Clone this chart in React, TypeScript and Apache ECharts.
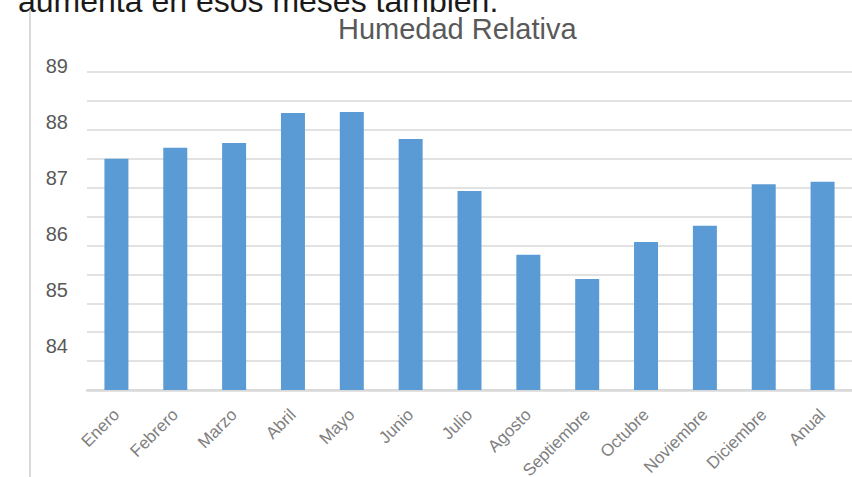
import React, { useEffect, useRef } from "react";
import * as echarts from "echarts";

const months = [
  "Enero",
  "Febrero",
  "Marzo",
  "Abril",
  "Mayo",
  "Junio",
  "Julio",
  "Agosto",
  "Septiembre",
  "Octubre",
  "Noviembre",
  "Diciembre",
  "Anual",
];
const humidity = [87.0, 87.19, 87.27, 87.79, 87.81, 87.34, 86.44, 85.34, 84.92, 85.56, 85.84, 86.56, 86.6];
const yTickLabels = [84, 85, 86, 87, 88, 89];
const titleText = "Humedad Relativa";
const bodyText = "aumenta en esos meses también.";

const FONT = "'Liberation Sans', Arial, Helvetica, sans-serif";

export default function App() {
  const ref = useRef<HTMLDivElement>(null);
  useEffect(() => {
    if (!ref.current) return;
    const chart = echarts.init(ref.current, null, { renderer: "svg" });
    chart.setOption({
      animation: false,
      backgroundColor: "#ffffff",
      title: {
        text: titleText,
        left: 333,
        top: 9,
        textStyle: { fontFamily: FONT, fontSize: 29, fontWeight: "normal", color: "#595959" },
      },
      grid: [
        { left: 87, right: 0, top: 72, bottom: 87, outerBoundsMode: "none", containLabel: false },
        { left: 87, right: 0, top: 66, height: 336, outerBoundsMode: "none", containLabel: false },
      ],
      xAxis: [
        {
          type: "category",
          data: months,
          gridIndex: 0,
          axisLine: { lineStyle: { color: "#d9d9d9", width: 2.5 } },
          axisTick: { show: false },
          axisLabel: {
            rotate: 45,
            interval: 0,
            fontSize: 17,
            margin: 22,
            color: "#7f7f7f",
            fontFamily: FONT,
          },
        },
        { type: "category", data: months, gridIndex: 1, show: false },
      ],
      yAxis: [
        {
          type: "value",
          gridIndex: 0,
          min: 83,
          max: 88.5,
          interval: 0.5,
          axisLabel: { show: false },
          axisLine: { show: false },
          axisTick: { show: false },
          splitLine: { lineStyle: { color: "#d9d9d9", width: 1.5 } },
        },
        {
          type: "value",
          gridIndex: 1,
          min: 83,
          max: 89,
          interval: 1,
          axisLabel: {
            customValues: yTickLabels,
            fontSize: 20,
            margin: 19,
            color: "#595959",
            fontFamily: FONT,
          },
          axisLine: { show: false },
          axisTick: { show: false },
          splitLine: { show: false },
        },
      ],
      graphic: [
        {
          type: "line",
          shape: { x1: 30, y1: 10, x2: 30, y2: 477 },
          style: { stroke: "#d9d9d9", lineWidth: 2 },
          silent: true,
        },
        {
          type: "text",
          x: 18,
          y: 1,
          style: {
            text: bodyText,
            font: `32px ${FONT}`,
            fill: "#1a1a1a",
            verticalAlign: "middle",
            align: "left",
          },
          silent: true,
        },
      ],
      series: [
        {
          type: "bar",
          name: titleText,
          xAxisIndex: 0,
          yAxisIndex: 0,
          data: humidity,
          barWidth: 24,
          itemStyle: { color: "#5b9bd5" },
        },
      ],
    });
    return () => chart.dispose();
  }, []);
  return (
    <div
      ref={ref}
      style={{ position: "fixed", left: 0, top: 0, width: 852, height: 477 }}
    />
  );
}
